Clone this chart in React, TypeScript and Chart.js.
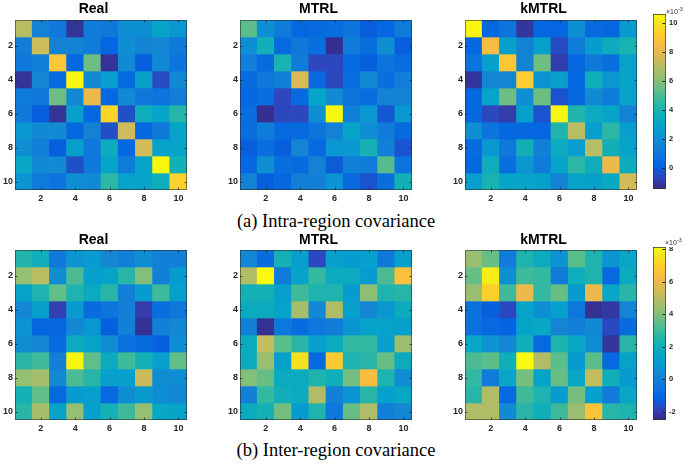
import React, { useEffect, useRef } from "react";
import { Chart, registerables } from "chart.js";
Chart.register(...registerables);

// ---------- data (values in units of 1e-3) ----------
const cellLabels = ["1", "2", "3", "4", "5", "6", "7", "8", "9", "10"];
const axisTickValues = [2, 4, 6, 8, 10];

const intraReal = [
  [7.0, 1.5, 1.0, -1.2, 1.2, 1.0, 2.0, 2.0, 3.0, 2.3],
  [1.3, 7.5, 1.5, 1.5, 1.2, 0.2, 2.0, 1.5, 1.7, 1.0],
  [1.0, 1.3, 9.0, 0.3, 5.6, -1.2, 1.8, 0.0, 1.8, 0.8],
  [-1.2, 1.7, 0.4, 10.5, 1.8, 2.7, 0.4, 2.8, -0.5, 1.8],
  [1.2, 1.0, 5.6, 1.8, 8.2, 0.3, 1.8, 1.0, 0.8, 1.3],
  [1.0, 0.0, -1.2, 2.8, 0.3, 9.5, -0.4, 3.6, 3.0, 4.3],
  [2.3, 1.8, 1.8, 0.3, 1.5, -0.4, 7.5, 0.3, 1.0, 3.0],
  [2.0, 1.3, 0.0, 2.8, 1.0, 3.5, 0.3, 7.6, 2.9, 3.0],
  [3.2, 1.8, 1.8, -0.4, 1.0, 3.0, 1.2, 3.0, 10.5, 3.8],
  [2.3, 1.2, 0.8, 2.0, 1.8, 4.4, 3.0, 3.0, 3.6, 9.4],
];
const intraMTRL = [
  [5.3, 2.0, 1.2, 0.3, 0.4, 0.5, 0.8, 0.0, 0.3, 1.2],
  [2.0, 3.8, 0.4, 1.0, 0.6, -1.3, 1.2, 0.5, 2.0, 0.0],
  [1.3, 0.4, 4.0, 1.2, -0.6, -0.6, 0.4, 0.0, 0.8, 0.5],
  [0.4, 1.0, 1.3, 7.8, 0.4, -0.6, 0.5, 1.8, 0.6, 1.3],
  [0.3, 0.6, -0.6, 0.4, 3.0, 1.8, 0.8, 0.5, 1.5, 1.5],
  [0.5, -1.3, -0.6, -0.6, 2.0, 10.5, 1.3, 2.3, -0.2, 2.3],
  [0.6, 1.2, 0.4, 0.4, 0.8, 1.5, 3.0, 2.0, 1.2, 0.4],
  [0.0, 0.6, 0.0, 1.6, 0.4, 2.4, 2.4, 3.9, 1.4, -0.3],
  [0.3, 2.0, 0.6, 0.4, 1.5, -0.1, 1.3, 1.2, 5.2, 0.8],
  [1.5, 0.0, 0.3, 1.3, 1.4, 2.2, 0.4, -0.3, 0.6, 3.8],
];
const intraKMTRL = [
  [10.5, 0.3, 0.8, -1.1, 0.3, 0.2, 2.0, 0.4, 0.3, 2.6],
  [0.3, 8.5, 2.8, 1.5, 2.8, -0.5, 1.2, 2.6, 3.5, 4.0],
  [0.8, 2.8, 9.0, 1.5, 5.6, -0.9, 0.3, 1.0, 0.6, 3.0],
  [-1.1, 1.6, 1.6, 9.2, 2.2, 2.8, 0.3, 3.6, 2.3, 3.0],
  [0.3, 3.0, 5.6, 2.0, 5.6, -0.3, 0.3, 1.8, 1.2, 3.0],
  [0.3, -0.6, -0.9, 2.8, -0.3, 10.5, 4.2, 3.4, 3.0, 1.5],
  [2.0, 0.8, 0.3, 0.3, 0.2, 4.2, 7.0, 2.7, 4.4, 2.7],
  [0.4, 2.4, 1.0, 3.8, 1.4, 3.4, 2.7, 7.0, 3.8, 3.0],
  [0.3, 3.6, 0.6, 2.3, 1.2, 3.0, 4.4, 3.6, 8.2, 3.5],
  [2.7, 4.0, 3.0, 3.0, 2.8, 1.5, 3.0, 2.8, 3.3, 7.6],
];
const interReal = [
  [2.5, 2.0, -0.3, 0.7, 1.0, 0.3, 0.0, 0.5, 0.0, 0.0],
  [4.3, 5.0, 0.5, 3.2, 1.2, 1.4, 2.6, 4.0, 0.0, 1.0],
  [1.4, 2.4, 3.5, 2.4, 1.8, 2.6, 0.0, 1.0, 3.0, 1.2],
  [0.3, 1.2, -1.9, 1.0, -0.8, -0.5, 0.0, -2.0, -0.7, -0.4],
  [0.7, -1.0, -1.0, 0.3, 0.8, -1.2, 0.0, -2.3, 0.0, 0.3],
  [0.5, 0.3, -0.9, 1.8, 1.4, 0.5, -0.6, -0.8, -1.2, 0.5],
  [2.6, 3.0, 0.0, 8.0, 3.5, 1.8, 3.0, 2.2, 1.2, 3.5],
  [4.3, 4.6, 0.3, 3.2, 2.6, 1.2, 1.2, 5.3, 0.5, 0.5],
  [2.2, 3.5, -0.9, 1.0, 1.2, -0.9, 0.5, 1.0, 0.5, 0.3],
  [2.6, 4.6, 1.4, 4.3, 1.2, 2.2, 3.0, 4.3, 1.6, 1.4],
];
const interMTRL = [
  [0.3, -0.8, 2.2, 1.2, -1.7, 1.2, 1.0, 1.2, -0.3, 1.2],
  [4.8, 8.1, -0.2, 1.4, 2.8, 1.8, 1.8, 1.0, 3.2, 6.5],
  [2.2, 2.2, 1.2, 3.0, 2.4, 2.4, 1.0, 4.2, 2.4, 2.6],
  [1.8, 1.8, 1.4, 4.6, 0.3, 4.8, 1.2, 0.3, 0.8, 1.8],
  [0.0, -2.3, -0.4, -0.8, -0.4, -0.2, 0.7, 1.4, 1.4, 1.2],
  [1.8, 5.2, 3.4, 2.6, 1.2, 1.8, 2.8, 2.8, 1.2, 4.4],
  [1.8, 4.4, 1.2, 7.5, -0.9, 6.8, 2.4, 2.6, 3.6, 1.8],
  [4.0, 3.6, 1.8, 1.8, 2.4, 2.0, 3.8, 6.4, 2.4, 0.5],
  [0.0, 2.8, 2.0, 1.8, 4.8, 0.0, 0.7, 2.6, 1.2, 1.6],
  [1.8, 2.2, 3.8, 1.0, 2.4, -0.4, 3.6, 4.8, -0.1, 0.3],
];
const interKMTRL = [
  [4.4, 3.6, -0.2, 2.4, 1.8, 0.7, 3.4, 2.4, 0.7, 1.6],
  [3.6, 7.8, 0.6, 3.0, 2.8, -0.2, 2.0, 2.4, -0.9, 1.8],
  [4.4, 7.0, 3.0, 6.0, 2.8, 3.6, 1.0, 6.0, 1.6, 2.6],
  [-0.6, -1.2, -1.7, 1.4, 0.6, 1.2, -0.4, -2.3, -2.1, 0.2],
  [-0.6, -0.9, -1.1, 1.4, 1.6, 0.2, -0.1, 0.4, -1.7, -0.8],
  [1.6, 0.7, 0.2, 2.0, -0.9, 2.4, 1.6, 0.5, -2.2, 2.6],
  [3.2, 3.4, 2.0, 8.1, 4.8, 3.4, 1.0, 3.4, -0.9, 1.4],
  [2.8, -0.2, 1.6, 3.8, 1.4, 3.6, 1.6, 5.2, 2.0, 1.0],
  [2.6, 4.8, -0.9, 3.0, 2.4, 1.0, 3.8, 1.2, -0.2, 1.6],
  [4.8, 4.8, 0.4, 2.6, 2.0, 3.0, 4.4, 6.6, 2.6, 2.4],
];

const intraRange = [-1.45, 10.62];
const interRange = [-2.49, 8.12];
const intraBarTicks = [0, 2, 4, 6, 8, 10];
const interBarTicks = [-2, 0, 2, 4, 6, 8];

// parula colormap (subsampled)
const parula = [
  [0.2081, 0.1663, 0.5292],
  [0.1959, 0.2645, 0.7279],
  [0.0117, 0.3875, 0.882],
  [0.0498, 0.4586, 0.8641],
  [0.0793, 0.52, 0.8312],
  [0.0343, 0.5966, 0.8199],
  [0.0228, 0.6535, 0.7768],
  [0.0843, 0.6928, 0.7062],
  [0.2178, 0.725, 0.6193],
  [0.3953, 0.7459, 0.5244],
  [0.5709, 0.7485, 0.4494],
  [0.7184, 0.7411, 0.3905],
  [0.8507, 0.7299, 0.336],
  [0.9739, 0.7314, 0.2666],
  [0.988, 0.8066, 0.1794],
  [0.9589, 0.8949, 0.1132],
  [0.9763, 0.9831, 0.0538],
];
const parulaPos = parula.map((_, i) => (i === parula.length - 1 ? 1 : (i * 4) / 63));

function parulaColor(t: number): string {
  const tt = Math.max(0, Math.min(1, t));
  let i = 0;
  while (i < parulaPos.length - 2 && tt > parulaPos[i + 1]) i++;
  const f = (tt - parulaPos[i]) / (parulaPos[i + 1] - parulaPos[i]);
  const a = parula[i], b = parula[i + 1];
  const c = a.map((v, k) => Math.round((v + (b[k] - v) * f) * 255));
  return `rgb(${c[0]},${c[1]},${c[2]})`;
}
function valueColor(v: number, range: number[]) {
  return parulaColor((v - range[0]) / (range[1] - range[0]));
}

const TICK_FONT = { family: "'Liberation Sans', Arial, sans-serif", size: 9, weight: "bold" as const };
const TICK_COLOR = "#262626";

const framePlugin = {
  id: "frame",
  afterDraw(chart: any) {
    const { ctx, chartArea: a, scales } = chart;
    const x = scales.x, y = scales.y;
    ctx.save();
    ctx.strokeStyle = "rgba(38,38,38,0.75)";
    ctx.lineWidth = 1;
    ctx.beginPath();
    x.ticks.forEach((t: any, i: number) => {
      if (!axisTickValues.includes(i + 1)) return;
      const px = Math.round(x.getPixelForTick(i)) + 0.5;
      ctx.moveTo(px, a.bottom);
      ctx.lineTo(px, a.bottom - 2.5);
      ctx.moveTo(px, a.top);
      ctx.lineTo(px, a.top + 2.5);
    });
    y.ticks.forEach((t: any) => {
      const py = Math.round(y.getPixelForValue(t.value)) + 0.5;
      ctx.moveTo(a.left, py);
      ctx.lineTo(a.left + 2.5, py);
      ctx.moveTo(a.right, py);
      ctx.lineTo(a.right - 2.5, py);
    });
    ctx.stroke();
    ctx.strokeStyle = "rgba(38,38,38,0.55)";
    ctx.strokeRect(a.left + 0.5, a.top + 0.5, a.width - 1, a.height - 1);
    ctx.restore();
  },
};

const barTickPlugin = {
  id: "barTicks",
  afterDraw(chart: any) {
    const { ctx, chartArea: a, scales } = chart;
    const y = scales.y;
    ctx.save();
    ctx.strokeStyle = "#222";
    ctx.lineWidth = 1;
    ctx.beginPath();
    y.ticks.forEach((t: any) => {
      const py = Math.round(y.getPixelForValue(t.value)) + 0.5;
      ctx.moveTo(a.right - 1, py);
      ctx.lineTo(a.right - 3.5, py);
    });
    ctx.stroke();
    ctx.restore();
  },
};

type HeatProps = {
  matrix: number[][];
  range: number[];
  title: string;
  plotLeft: number;
  plotTop: number;
  titleCenter: number;
};

const PLOT_W = 172;
const PLOT_H = 170;
const Y_AXIS_W = 15;
const X_AXIS_H = 14;
const TITLE_BLOCK = 20;

function Heatmap({ matrix, range, title, plotLeft, plotTop, titleCenter }: HeatProps) {
  const ref = useRef<HTMLCanvasElement>(null);
  const canvasLeft = plotLeft - Y_AXIS_W;
  const canvasTop = plotTop - TITLE_BLOCK;
  const w = Y_AXIS_W + PLOT_W;
  const h = TITLE_BLOCK + PLOT_H + X_AXIS_H;
  useEffect(() => {
    if (!ref.current) return;
    const padTop = titleCenter - canvasTop - 8.4;
    const padBottom = TITLE_BLOCK - 16.8 - padTop;
    const chart = new Chart(ref.current, {
      type: "bar",
      data: {
        labels: cellLabels,
        datasets: matrix.map((row, r) => ({
          data: row.map(() => [r + 0.5, r + 1.5] as [number, number]),
          backgroundColor: row.map((v) => valueColor(v, range)),
          borderWidth: 0,
          barPercentage: 1,
          categoryPercentage: 1,
          grouped: false,
        })),
      },
      options: {
        responsive: false,
        animation: false,
        events: [],
        layout: { padding: 0 },
        plugins: {
          legend: { display: false },
          tooltip: { enabled: false },
          title: {
            display: true,
            text: title,
            color: "#000",
            font: { family: "'Liberation Sans', Arial, sans-serif", size: 14, weight: "bold", lineHeight: 1.2 },
            padding: { top: padTop, bottom: padBottom },
          },
        },
        scales: {
          x: {
            type: "category",
            offset: true,
            grid: { display: false, drawTicks: false },
            border: { display: false },
            ticks: {
              autoSkip: false,
              maxRotation: 0,
              padding: 3,
              color: TICK_COLOR,
              font: TICK_FONT,
              callback: (_v: any, i: number) => (axisTickValues.includes(i + 1) ? cellLabels[i] : ""),
            },
            afterFit: (s: any) => {
              s.height = X_AXIS_H;
              s.paddingLeft = 0;
              s.paddingRight = 0;
            },
          },
          y: {
            type: "linear",
            min: 0.5,
            max: 10.5,
            reverse: true,
            grid: { display: false, drawTicks: false },
            border: { display: false },
            afterBuildTicks: (s: any) => {
              s.ticks = axisTickValues.map((v) => ({ value: v }));
            },
            ticks: { padding: 2, color: TICK_COLOR, font: TICK_FONT },
            afterFit: (s: any) => {
              s.width = Y_AXIS_W;
              s.paddingTop = 0;
              s.paddingBottom = 0;
            },
          },
        },
      },
      plugins: [framePlugin],
    } as any);
    return () => chart.destroy();
  }, []);
  return (
    <canvas
      ref={ref}
      width={w}
      height={h}
      style={{ position: "absolute", left: canvasLeft, top: canvasTop, width: w, height: h }}
    />
  );
}

type BarProps = { range: number[]; ticks: number[]; left: number; top: number; height: number };

function ColorBar({ range, ticks, left, top, height }: BarProps) {
  const ref = useRef<HTMLCanvasElement>(null);
  const w = 35;
  useEffect(() => {
    if (!ref.current) return;
    const chart = new Chart(ref.current, {
      type: "bar",
      data: {
        labels: [""],
        datasets: [
          {
            data: [[range[0], range[1]] as [number, number]],
            backgroundColor: (c: any) => {
              const a = c.chart.chartArea;
              if (!a) return "#888";
              const g = c.chart.ctx.createLinearGradient(0, a.bottom, 0, a.top);
              for (let i = 0; i <= 32; i++) g.addColorStop(i / 32, parulaColor(i / 32));
              return g;
            },
            borderColor: "#333",
            borderWidth: 1,
            borderSkipped: false,
            barPercentage: 1,
            categoryPercentage: 1,
          },
        ],
      },
      options: {
        responsive: false,
        animation: false,
        events: [],
        layout: { padding: 0 },
        plugins: { legend: { display: false }, tooltip: { enabled: false } },
        scales: {
          x: { display: false },
          y: {
            position: "right",
            min: range[0],
            max: range[1],
            grid: { display: false, drawTicks: false },
            border: { display: false },
            afterBuildTicks: (s: any) => {
              s.ticks = ticks.map((v) => ({ value: v }));
            },
            ticks: {
              padding: 3,
              color: TICK_COLOR,
              font: { family: "'Liberation Sans', Arial, sans-serif", size: 7.5, weight: "bold" },
            },
            afterFit: (s: any) => {
              s.width = 22;
              s.paddingTop = 0;
              s.paddingBottom = 0;
            },
          },
        },
      },
      plugins: [barTickPlugin],
    } as any);
    return () => chart.destroy();
  }, []);
  return (
    <canvas
      ref={ref}
      width={w}
      height={height}
      style={{ position: "absolute", left, top, width: w, height }}
    />
  );
}

const captionStyle: React.CSSProperties = {
  position: "absolute",
  left: 0,
  width: 672,
  textAlign: "center",
  fontFamily: "'Liberation Serif', 'Times New Roman', serif",
  fontSize: 18.5,
  lineHeight: "20px",
  color: "#000",
  whiteSpace: "nowrap",
};

const expStyle: React.CSSProperties = {
  position: "absolute",
  fontFamily: "'Liberation Sans', Arial, sans-serif",
  fontSize: 7,
  lineHeight: "8px",
  color: "#333",
  whiteSpace: "nowrap",
};

export default function App() {
  return (
    <div style={{ position: "absolute", left: 0, top: 0, width: 688, height: 466, background: "#fff", overflow: "hidden" }}>
      <Heatmap matrix={intraReal} range={intraRange} title="Real" plotLeft={15} plotTop={20} titleCenter={9} />
      <Heatmap matrix={intraMTRL} range={intraRange} title="MTRL" plotLeft={240} plotTop={20} titleCenter={9} />
      <Heatmap matrix={intraKMTRL} range={intraRange} title="kMTRL" plotLeft={465} plotTop={20} titleCenter={9} />
      <ColorBar range={intraRange} ticks={intraBarTicks} left={653} top={14} height={175} />
      <div style={{ ...expStyle, left: 666, top: 5 }}>
        ×10<sup style={{ fontSize: 5.5 }}>-3</sup>
      </div>
      <div style={{ ...captionStyle, top: 211 }}>(a) Intra-region covariance</div>

      <Heatmap matrix={interReal} range={interRange} title="Real" plotLeft={15} plotTop={250} titleCenter={240} />
      <Heatmap matrix={interMTRL} range={interRange} title="MTRL" plotLeft={240} plotTop={250} titleCenter={240} />
      <Heatmap matrix={interKMTRL} range={interRange} title="kMTRL" plotLeft={465} plotTop={250} titleCenter={240} />
      <ColorBar range={interRange} ticks={interBarTicks} left={653} top={247} height={173} />
      <div style={{ ...expStyle, left: 665, top: 236 }}>
        ×10<sup style={{ fontSize: 5.5 }}>-3</sup>
      </div>
      <div style={{ ...captionStyle, top: 440 }}>(b) Inter-region covariance</div>
    </div>
  );
}
